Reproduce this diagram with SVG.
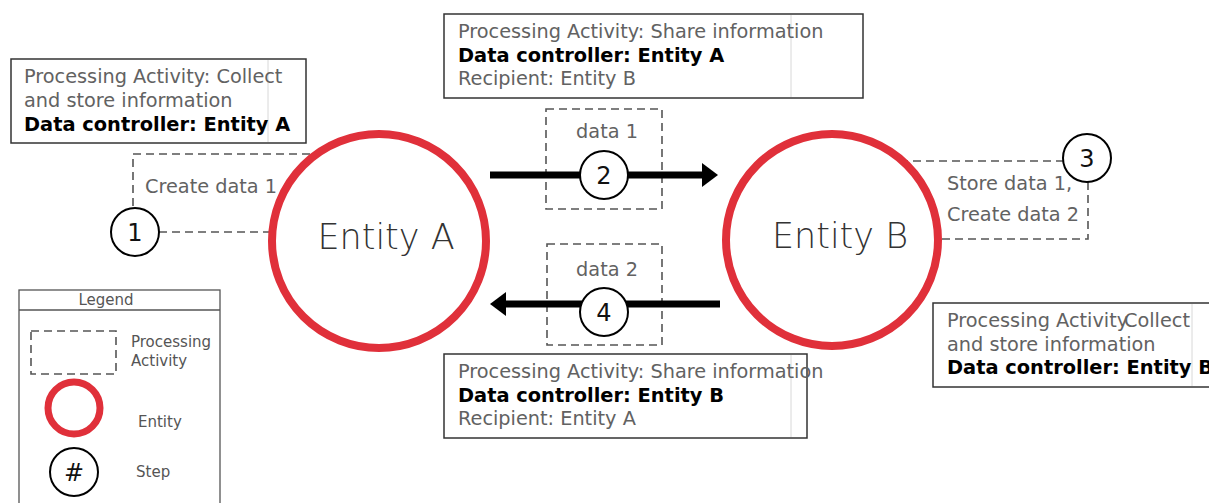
<svg xmlns="http://www.w3.org/2000/svg" width="1209" height="503" viewBox="0 0 1209 503">
<style>
.t{font-family:"DejaVu Sans","Liberation Sans",sans-serif;font-size:19.3px;fill:#626262}
.b{font-family:"DejaVu Sans","Liberation Sans",sans-serif;font-size:19.4px;font-weight:bold;fill:#000}
.ent{font-family:"DejaVu Sans","Liberation Sans",sans-serif;font-size:35px;font-weight:200;fill:#333;text-anchor:middle}
.num{font-family:"DejaVu Sans","Liberation Sans",sans-serif;font-size:24px;fill:#111;text-anchor:middle}
.lg{font-family:"DejaVu Sans","Liberation Sans",sans-serif;font-size:15px;fill:#555}
.box{fill:#fff;stroke:#333;stroke-width:1.5}
.faint{stroke:#d8d8d8;stroke-width:1}
.dash{fill:none;stroke:#555;stroke-width:1.6;stroke-dasharray:8 5}
.entity{fill:#fff;stroke:#e0303a;stroke-width:8}
.step{fill:#fff;stroke:#000;stroke-width:2}
.arrow{stroke:#000;stroke-width:7;fill:none}
</style>
<defs>
<marker id="ah" markerUnits="userSpaceOnUse" markerWidth="16" markerHeight="24" viewBox="0 0 16 24" refX="1" refY="12" orient="auto">
<path d="M0,0 L16,12 L0,24 z" fill="#000"/>
</marker>
</defs>

<g id="connectors">
<polyline class="dash" points="310,154 133,154 133,208"/>
<line class="dash" x1="159" y1="232" x2="275" y2="232"/>
<polyline class="dash" points="900,161 1063,161"/>
<polyline class="dash" points="1088,182 1088,239 935,239"/>
<rect class="dash" x="546" y="109" width="116" height="100"/>
<rect class="dash" x="547" y="244" width="115" height="101"/>
<line class="arrow" x1="490" y1="175" x2="703" y2="175" marker-end="url(#ah)"/>
<line class="arrow" x1="720" y1="304" x2="505" y2="304" marker-end="url(#ah)"/>
</g>

<g id="box-collect-a">
<rect class="box" x="11" y="59" width="295" height="84"/>
<line class="faint" x1="268" y1="60" x2="268" y2="142"/>
<text class="t" x="24" y="83">Processing Activity: Collect</text>
<text class="t" x="24" y="107">and store information</text>
<text class="b" x="24" y="131">Data controller: Entity A</text>
</g>

<g id="box-share-a">
<rect class="box" x="444" y="14" width="419" height="84"/>
<line class="faint" x1="791" y1="15" x2="791" y2="97"/>
<text class="t" x="458" y="38">Processing Activity: Share information</text>
<text class="b" x="458" y="62">Data controller: Entity A</text>
<text class="t" x="458" y="85">Recipient: Entity B</text>
</g>

<g id="box-share-b">
<rect class="box" x="444" y="354" width="363" height="84"/>
<line class="faint" x1="791" y1="355" x2="791" y2="437"/>
<text class="t" x="458" y="378">Processing Activity: Share information</text>
<text class="b" x="458" y="402">Data controller: Entity B</text>
<text class="t" x="458" y="425">Recipient: Entity A</text>
</g>

<g id="box-collect-b">
<rect class="box" x="933" y="303" width="290" height="84"/>
<line class="faint" x1="1192" y1="304" x2="1192" y2="386"/>
<text class="t" x="947" y="327">Processing Activity</text>
<text class="t" x="1124" y="327">Collect</text>
<text class="t" x="947" y="351">and store information</text>
<text class="b" x="947" y="374">Data controller: Entity B</text>
</g>

<g id="entity-a">
<circle class="entity" cx="379" cy="241" r="107"/>
<text class="ent" x="386" y="249">Entity A</text>
</g>

<g id="entity-b">
<circle class="entity" cx="832" cy="240" r="106"/>
<text class="ent" x="840" y="248">Entity B</text>
</g>

<g id="pa-create-1">
<text class="t" x="145" y="193">Create data 1</text>
</g>
<g id="pa-store-create">
<text class="t" x="947" y="190">Store data 1,</text>
<text class="t" x="947" y="221">Create data 2</text>
</g>
<g id="pa-data-1">
<text class="t" x="607" y="138" text-anchor="middle">data 1</text>
</g>
<g id="pa-data-2">
<text class="t" x="607" y="276" text-anchor="middle">data 2</text>
</g>

<g id="step-1">
<circle class="step" cx="135" cy="232" r="24"/>
<text class="num" x="135" y="241">1</text>
</g>
<g id="step-2">
<circle class="step" cx="604" cy="175" r="24"/>
<text class="num" x="604" y="184">2</text>
</g>
<g id="step-3">
<circle class="step" cx="1087" cy="158" r="24"/>
<text class="num" x="1087" y="167">3</text>
</g>
<g id="step-4">
<circle class="step" cx="604" cy="312" r="24"/>
<text class="num" x="604" y="321">4</text>
</g>

<g id="legend">
<rect x="19" y="290" width="201" height="230" fill="#fff" stroke="#555" stroke-width="1.3"/>
<line x1="19" y1="310" x2="220" y2="310" stroke="#555" stroke-width="1.3"/>
<text class="lg" x="106" y="305" text-anchor="middle">Legend</text>
<rect class="dash" x="31" y="331" width="85" height="43"/>
<text class="lg" x="131" y="347">Processing</text>
<text class="lg" x="131" y="366">Activity</text>
<circle cx="74" cy="408" r="26" fill="#fff" stroke="#e0303a" stroke-width="7"/>
<text class="lg" x="138" y="427">Entity</text>
<circle class="step" cx="74" cy="472" r="24"/>
<text class="num" x="74" y="481">#</text>
<text class="lg" x="136" y="477">Step</text>
</g>
</svg>
